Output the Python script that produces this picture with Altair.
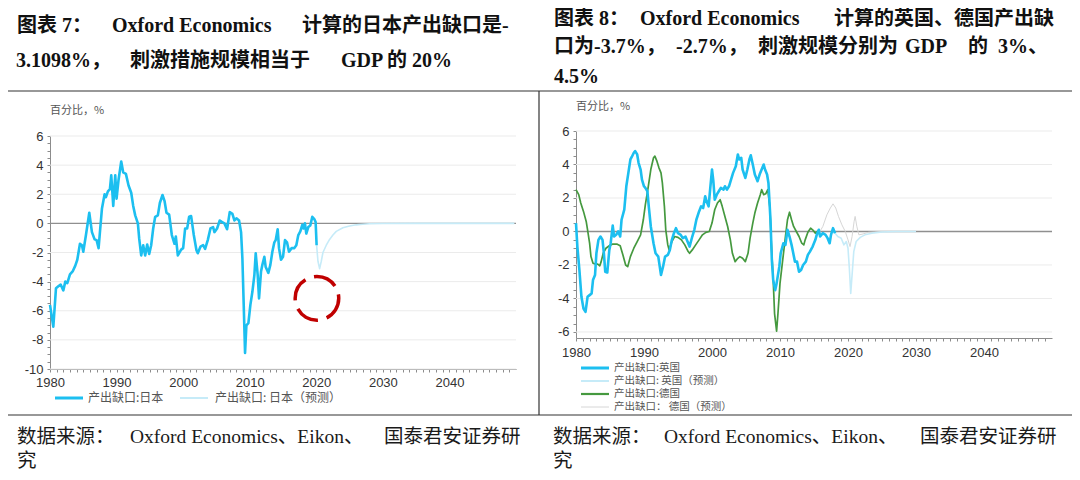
import altair as alt
import pandas as pd

# ---------------- series values ----------------
jp_years = [
    1980.0, 1980.5, 1980.9, 1981.3, 1981.6, 1982.0, 1982.3, 1982.6, 1983.0, 1983.4,
    1983.8, 1984.1, 1984.5, 1984.8, 1985.0, 1985.4, 1985.9, 1986.3, 1986.7, 1987.0,
    1987.3, 1987.5, 1987.8, 1988.2, 1988.4, 1988.7, 1989.0, 1989.2, 1989.5, 1989.8,
    1990.0, 1990.3, 1990.7, 1991.0, 1991.4, 1991.8, 1992.2, 1992.5, 1992.8, 1993.2,
    1993.4, 1993.7, 1994.0, 1994.3, 1994.6, 1994.9, 1995.2, 1995.5, 1995.8, 1996.2,
    1996.5, 1996.9, 1997.2, 1997.5, 1997.9, 1998.3, 1998.7, 1998.9, 1999.2, 1999.7,
    2000.0, 2000.3, 2000.6, 2000.9, 2001.2, 2001.6, 2002.0, 2002.2, 2002.6, 2003.0,
    2003.3, 2003.7, 2004.1, 2004.5, 2004.7, 2005.1, 2005.5, 2005.8, 2006.2, 2006.6,
    2007.0, 2007.4, 2007.7, 2008.0, 2008.4, 2008.7, 2008.9, 2009.1, 2009.3, 2009.5,
    2009.8, 2010.1, 2010.4, 2010.7, 2010.9, 2011.2, 2011.4, 2011.7, 2011.9, 2012.2,
    2012.4, 2012.8, 2013.1, 2013.4, 2013.7, 2013.9, 2014.2, 2014.4, 2014.7, 2015.0,
    2015.3, 2015.6, 2015.9, 2016.3, 2016.7, 2017.0, 2017.3, 2017.6, 2017.9, 2018.1,
    2018.3, 2018.5, 2018.8, 2019.1, 2019.4, 2019.7, 2019.9, 2020.05]
jp_vals = [
    -5.6, -7.1, -4.45, -4.3, -4.2, -4.6, -4.0, -4.1, -3.5, -3.3,
    -2.9, -2.5, -1.4, -1.5, -1.95, -0.8, 0.73, -0.6, -1.1, -1.15,
    -1.7, -0.6, 1.0, 2.0, 1.8, 2.2, 2.35, 3.3, 1.2, 3.3,
    1.7, 3.0, 4.25, 3.5, 3.4, 2.6, 2.1, 1.2, 0.55, 0.0,
    -1.05, -2.2, -1.5, -2.2, -1.45, -2.1, -1.5, -0.35, 0.45, 0.55,
    1.4, 1.95, 1.55, 0.73, 0.6, -0.8, -1.4, -0.9, -2.2, -1.8,
    -1.7, -0.35, -0.35, 0.45, 0.5, -0.8, -1.85, -2.05, -1.6, -1.5,
    -1.75, -1.15, -0.35, -0.25, -0.6, -0.35, 0.2, 0.1, 0.0, -0.4,
    0.77, 0.65, 0.2, 0.35, 0.2, -0.6, -2.4, -5.6, -8.9, -7.0,
    -6.85, -5.6, -4.7, -3.55, -2.05, -3.55, -5.15, -3.3, -2.85, -2.3,
    -3.0, -3.4, -2.85, -1.95, -1.3, -1.15, -0.4, -1.7, -2.5, -2.3,
    -1.15, -1.3, -1.95, -1.7, -1.7, -1.5, -0.8, -0.55, -0.1, -0.35,
    0.0, -0.7, -0.25, -0.15, 0.45, 0.3, 0.1, -1.5]
jpf_years = [2020.05, 2020.25, 2020.5, 2020.75, 2021.0, 2021.5, 2022.0, 2022.5, 2023.0,
             2024.0, 2025.0, 2026.0, 2027.0, 2028.0, 2030.0, 2035.0, 2040.0, 2045.0, 2049.75]
jpf_vals = [-1.5, -2.6, -3.11, -2.6, -2.0, -1.5, -1.1, -0.8, -0.55,
            -0.3, -0.18, -0.1, -0.06, -0.03, -0.01, 0.0, 0.0, 0.0, 0.0]

uk_years = [
    1980.0, 1980.2, 1980.5, 1980.8, 1981.1, 1981.4, 1981.7, 1982.0, 1982.3, 1982.5,
    1982.8, 1983.0, 1983.3, 1983.6, 1983.9, 1984.1, 1984.3, 1984.6, 1984.9, 1985.1,
    1985.4, 1985.6, 1985.9, 1986.2, 1986.5, 1986.7, 1987.1, 1987.4, 1987.7, 1988.0,
    1988.2, 1988.5, 1988.7, 1989.0, 1989.2, 1989.5, 1989.7, 1990.0, 1990.2, 1990.5,
    1990.7, 1991.0, 1991.4, 1991.7, 1992.1, 1992.5, 1992.8, 1993.1, 1993.5, 1993.8,
    1994.1, 1994.4, 1994.7, 1995.0, 1995.4, 1995.7, 1996.1, 1996.4, 1996.7, 1997.1,
    1997.4, 1997.7, 1998.1, 1998.4, 1998.7, 1999.0, 1999.2, 1999.5, 1999.7, 2000.0,
    2000.2, 2000.4, 2000.7, 2001.0, 2001.3, 2001.7, 2001.9, 2002.2, 2002.5, 2002.8,
    2003.1, 2003.5, 2003.8, 2004.0, 2004.3, 2004.5, 2004.9, 2005.2, 2005.5, 2005.7,
    2006.0, 2006.3, 2006.7, 2007.0, 2007.3, 2007.6, 2007.8, 2008.1, 2008.3, 2008.6,
    2008.8, 2009.0, 2009.3, 2009.5, 2009.9, 2010.1, 2010.5, 2010.8, 2011.1, 2011.4,
    2011.7, 2011.9, 2012.2, 2012.5, 2012.8, 2013.1, 2013.4, 2013.8, 2014.1, 2014.4,
    2014.8, 2015.2, 2015.4, 2015.7, 2015.9, 2016.3, 2016.7, 2017.0, 2017.3, 2017.5,
    2017.8, 2018.1]
uk_vals = [
    0.5, -0.9, -2.3, -3.9, -4.6, -4.8, -3.9, -3.8, -3.7, -2.9,
    -2.6, -1.3, -0.5, -0.3, -0.5, -1.3, -2.4, -2.45, -1.1, -0.7,
    0.35, -0.3, -0.2, 0.0, -0.3, 0.7, 1.3, 2.7, 3.5, 4.3,
    4.45, 4.7, 4.8, 4.6, 4.1, 3.7, 3.1, 2.7, 2.6, 2.4,
    1.5, 0.3, -0.7, -1.3, -1.5, -2.6, -2.1, -1.5, -1.4, -1.1,
    -0.5, -0.1, 0.2, -0.1, -0.2, -0.4, -0.3, -0.6, -0.9, -0.3,
    0.1, 0.7, 1.2, 1.5, 1.4, 2.1, 1.8, 1.5, 2.4, 3.7,
    3.0, 1.9, 2.2, 2.4, 2.6, 2.5, 2.7, 2.5, 2.7, 3.1,
    3.5, 3.9, 4.6, 4.3, 4.4, 3.7, 3.2, 3.7, 4.3, 4.55,
    4.0, 3.4, 3.0, 3.4, 3.7, 4.0, 3.7, 3.4, 2.9, 0.7,
    -1.7, -2.9, -3.5, -3.1, -2.1, -1.3, -0.7, -0.8, 0.1, -0.3,
    -0.8, -1.2, -1.8, -1.8, -2.4, -2.3, -2.0, -1.8, -1.4, -1.2,
    -0.9, -0.5, -0.2, 0.1, -0.3, -0.1, -0.2, -0.4, -0.7, -0.2,
    0.2, -0.1]
ukf_years = [2018.1, 2018.5, 2019.0, 2019.4, 2019.75, 2020.0, 2020.2, 2020.4, 2020.6,
             2020.85, 2021.2, 2021.8, 2022.5, 2023.5, 2025.0, 2027.0, 2030.0]
ukf_vals = [-0.1, -0.3, -0.4, -0.8, -0.6, -1.0, -2.2, -3.7, -2.6,
            -1.2, -0.6, -0.35, -0.2, -0.1, -0.03, 0.0, 0.0]

de_years = [
    1980.0, 1980.4, 1980.7, 1981.1, 1981.5, 1981.7, 1982.0, 1982.2, 1982.5, 1982.9,
    1983.2, 1983.5, 1983.7, 1984.0, 1984.4, 1984.9, 1985.4, 1986.0, 1986.5, 1986.9,
    1987.3, 1987.6, 1988.0, 1988.5, 1989.0, 1989.5, 1989.9, 1990.2, 1990.6, 1991.0,
    1991.4, 1991.6, 1991.9, 1992.2, 1992.5, 1992.7, 1993.0, 1993.2, 1993.5, 1993.7,
    1994.1, 1994.5, 1995.0, 1995.5, 1996.0, 1996.5, 1996.7, 1997.1, 1997.6, 1998.1,
    1998.6, 1999.1, 1999.6, 2000.0, 2000.4, 2000.8, 2001.2, 2001.5, 2001.9, 2002.3,
    2002.7, 2003.0, 2003.4, 2003.8, 2004.1, 2004.5, 2004.9, 2005.3, 2005.6, 2006.0,
    2006.3, 2006.7, 2007.1, 2007.3, 2007.6, 2007.9, 2008.2, 2008.5, 2008.7, 2009.0,
    2009.2, 2009.5, 2009.7, 2010.0, 2010.4, 2010.8, 2011.1, 2011.4, 2011.7, 2012.0,
    2012.4, 2012.8, 2013.2, 2013.5, 2013.7, 2014.1, 2014.5, 2014.8, 2015.2, 2015.5,
    2015.8]
de_vals = [
    2.5, 2.2, 1.7, 1.2, 0.6, 0.1, -0.7, -1.5, -1.9, -1.95,
    -1.95, -2.05, -1.8, -1.3, -1.0, -0.85, -0.75, -0.75, -0.85, -1.4,
    -2.0, -2.1, -1.5, -1.0, -0.6, -0.2, 0.7, 1.6, 2.6, 3.7,
    4.4, 4.5, 4.2, 3.8, 3.5, 2.9, 1.5, 0.1, -0.8, -1.1,
    -0.6, -0.3, -0.35, -0.5, -0.8, -1.2, -1.3, -1.1, -0.8, -0.5,
    -0.2, -0.05, 0.0, 0.5, 1.3, 1.7, 1.9, 1.5, 0.9, 0.3,
    -0.5, -1.3, -1.8, -1.6, -1.5, -1.6, -1.8, -1.3, -0.4, 0.5,
    1.1, 1.7, 2.2, 2.5, 2.2, 2.25, 2.5, 1.5, -0.5, -2.9,
    -4.9, -5.95, -4.9, -3.1, -1.7, -0.3, 0.7, 1.15, 0.7, 0.3,
    0.0, -0.3, -0.7, -0.8, -0.5, -0.05, 0.2, 0.1, -0.1, 0.0,
    -0.05]
def_years = [2015.8, 2016.3, 2016.9, 2017.4, 2017.8, 2018.2, 2018.6, 2019.1, 2019.6, 2020.0,
             2020.3, 2020.6, 2020.9, 2021.05, 2021.3, 2021.6, 2022.2, 2023.0, 2025.0, 2030.0]
def_vals = [-0.05, 0.3, 1.0, 1.4, 1.65, 1.4, 0.9, 0.4, 0.0, -0.5,
            -0.9, -0.3, 0.6, 0.9, 0.3, -0.2, -0.15, -0.05, 0.0, 0.0]

# annotation circle (data coordinates, left panel)
mark_circle_at = {"year": [2020.1], "v": [-5.15]}

# ---------------- texts ----------------
left_legend = ["产出缺口:日本", "产出缺口: 日本（预测）"]
right_legend = ["产出缺口:英国", "产出缺口: 英国（预测）", "产出缺口:德国", "产出缺口： 德国（预测）"]
unit_label = ["百分比，%"]
left_title_1 = ["图表 7：", "Oxford Economics", "计算的日本产出缺口是-"]
left_title_2 = ["3.1098%，", "刺激措施规模相当于", "GDP 的 20%"]
right_title_1 = ["图表 8：", "Oxford Economics", "计算的英国、德国产出缺"]
right_title_2 = ["口为-3.7%，", "-2.7%，", "刺激规模分别为", "GDP", "的", "3%、"]
right_title_3 = ["4.5%"]
source_1 = ["数据来源：", "Oxford Economics、Eikon、", "国泰君安证券研"]
source_2 = ["究"]
x_domain = [1980, 2050]
left_y_domain = [-10, 6]
right_y_domain = [-6.36, 6]

# ---------------- layout (pixels inside the 1064x464 chart) ----------------
W, H = 1064, 464
L_XR = [42, 508]
L_YR = [361, 128]
R_XR = [568, 1044]
R_YR = [330, 123]

BLUE = "#1cbff0"
LBLUE = "#c6ebf8"
GREEN = "#45993f"
LGRAY = "#d6d6d6"
AXC = "#8c8c8c"
SANS = "Liberation Sans"
CJK = "Noto Sans CJK SC"
SERIF = "'Liberation Serif', 'Noto Sans CJK SC'"
TS = 20  # title font size
SS = 19.5  # source font size

lx = alt.Scale(domain=x_domain, range=L_XR, nice=False, zero=False)
ly = alt.Scale(domain=left_y_domain, range=L_YR, nice=False, zero=False)
rx = alt.Scale(domain=x_domain, range=R_XR, nice=False, zero=False)
ry = alt.Scale(domain=right_y_domain, range=R_YR, nice=False, zero=False)


def x_axis(offset, pad):
    return alt.Axis(orient="bottom", offset=offset, values=list(range(1980, 2050)),
                    labelExpr="datum.value % 10 == 0 ? '' + datum.value : ''",
                    labelFlush=False, labelOverlap=False, labelFont=SANS, labelFontSize=13,
                    labelColor="#333333", labelPadding=pad, tickSize=3, tickColor=AXC,
                    domainColor=AXC, grid=False, title=None)


def y_axis(offset, lo, hi):
    vals = [v / 2 for v in range(int(lo * 2), int(hi * 2) + 1)]
    return alt.Axis(orient="left", offset=offset, values=vals,
                    labelExpr="datum.value % 2 == 0 ? '' + datum.value : ''",
                    labelOverlap=False, labelFont=SANS, labelFontSize=13, labelColor="#333333",
                    labelPadding=4, tickSize=3, tickColor=AXC, domainColor=AXC,
                    grid=False, title=None)


def grid(xs, ys, vals, ax=None, ay=None):
    df = pd.DataFrame({"g": vals, "x0": x_domain[0], "x1": x_domain[1]})
    return alt.Chart(df).mark_rule(color="#ebebeb", strokeWidth=1).encode(
        x=alt.X("x0:Q", scale=xs, axis=ax), x2="x1:Q",
        y=alt.Y("g:Q", scale=ys, axis=ay))


def zero(xs, ys):
    df = pd.DataFrame({"g": [0], "x0": x_domain[0], "x1": x_domain[1]})
    return alt.Chart(df).mark_rule(color="#8f8f8f", strokeWidth=1.4).encode(
        x=alt.X("x0:Q", scale=xs, axis=None), x2="x1:Q",
        y=alt.Y("g:Q", scale=ys, axis=None))


def line(years, vals, xs, ys, color, width):
    df = pd.DataFrame({"year": years, "v": vals})
    return alt.Chart(df).mark_line(color=color, strokeWidth=width, strokeJoin="round").encode(
        x=alt.X("year:Q", scale=xs, axis=None),
        y=alt.Y("v:Q", scale=ys, axis=None))


def texts(items, xs, ys, size, font, color, weight="normal"):
    df = pd.DataFrame({"t": items, "px": xs, "py": ys})
    return alt.Chart(df).mark_text(align="left", baseline="middle", fontSize=size, font=font,
                                   color=color, fontWeight=weight).encode(
        x=alt.X("px:Q", scale=None, axis=None),
        y=alt.Y("py:Q", scale=None, axis=None),
        text="t:N")


def rules(x1s, x2s, y1s, y2s, colors, widths):
    df = pd.DataFrame({"a": x1s, "b": x2s, "c": y1s, "d": y2s, "col": colors, "w": widths})
    return alt.Chart(df).mark_rule().encode(
        x=alt.X("a:Q", scale=None, axis=None), x2="b:Q",
        y=alt.Y("c:Q", scale=None, axis=None), y2="d:Q",
        color=alt.Color("col:N", scale=None), strokeWidth=alt.StrokeWidth("w:Q", scale=None))


left_grid_vals = [-10, -8, -6, -4, -2, 2, 4, 6]
right_grid_vals = [-6, -4, -2, 2, 4, 6]
rleg_y = [360, 373, 386, 399]

layers = [
    grid(lx, ly, left_grid_vals, x_axis(-(H - L_YR[0]), 4), y_axis(-L_XR[0], -10, 6)),
    grid(rx, ry, right_grid_vals, x_axis(-(H - R_YR[0]), 5), y_axis(-R_XR[0], -6, 6)),
    zero(lx, ly),
    zero(rx, ry),
    line(jpf_years, jpf_vals, lx, ly, LBLUE, 1.6),
    line(jp_years, jp_vals, lx, ly, BLUE, 2.6),
    line(def_years, def_vals, rx, ry, LGRAY, 1.0),
    line(ukf_years, ukf_vals, rx, ry, LBLUE, 1.6),
    line(de_years, de_vals, rx, ry, GREEN, 1.7),
    line(uk_years, uk_vals, rx, ry, BLUE, 2.6),
    alt.Chart(pd.DataFrame(mark_circle_at)).mark_point(
        shape="circle", size=1900, filled=False, stroke="#c00000", strokeWidth=3.5,
        strokeDash=[24, 9], opacity=1).encode(
        x=alt.X("year:Q", scale=lx, axis=None), y=alt.Y("v:Q", scale=ly, axis=None)),
    # unit labels
    texts(unit_label, [42], [103], 11, CJK, "#555555"),
    texts(unit_label, [568], [99], 11, CJK, "#555555"),
    # legends
    rules([47, 172], [75, 200], [390, 390], [390, 390], [BLUE, LBLUE], [3, 2]),
    texts(left_legend, [80, 207], [390, 390], 12, CJK, "#555555"),
    rules([573] * 4, [601] * 4, rleg_y, rleg_y, [BLUE, LBLUE, GREEN, LGRAY], [3, 2, 2.2, 1]),
    texts(right_legend, [606] * 4, rleg_y, 10.5, CJK, "#555555"),
    # titles
    texts(left_title_1, [9, 104, 294], [18] * 3, TS, SERIF, "#111111", "bold"),
    texts(left_title_2, [8, 122, 333], [53] * 3, TS, SERIF, "#111111", "bold"),
    texts(right_title_1, [546, 632, 826], [11] * 3, TS, SERIF, "#111111", "bold"),
    texts(right_title_2, [546, 668, 750, 897, 960, 990], [39] * 6, TS, SERIF, "#111111", "bold"),
    texts(right_title_3, [546], [69], TS, SERIF, "#111111", "bold"),
    # sources
    texts(source_1, [9, 122, 376], [429] * 3, SS, SERIF, "#1a1a1a"),
    texts(source_1, [545, 656, 912], [429] * 3, SS, SERIF, "#1a1a1a"),
    texts(source_2, [9], [453], SS, SERIF, "#1a1a1a"),
    texts(source_2, [545], [453], SS, SERIF, "#1a1a1a"),
    # frame lines
    rules([0, 531, 0], [W, 531, W], [83, 83, 407], [83, 407, 407],
          ["#333333"] * 3, [1.2, 1.2, 1.2]),
]

chart = alt.layer(*layers).resolve_scale(
    x="independent", y="independent", color="independent", strokeWidth="independent"
).resolve_axis(x="independent", y="independent").properties(
    width=W, height=H, padding=0,
    autosize=alt.AutoSizeParams(type="none"),
    background="white",
).configure_view(stroke=None)

chart.save("out.html", embed_options={"renderer": "svg", "actions": False})
